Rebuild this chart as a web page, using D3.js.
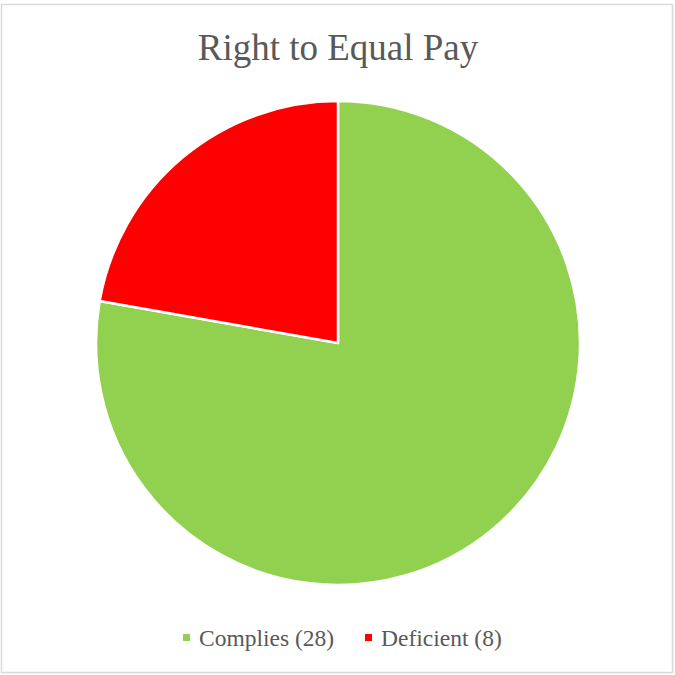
<!DOCTYPE html>
<html>
<head>
<meta charset="utf-8">
<script src="https://cdn.jsdelivr.net/npm/d3@7"></script>
<style>
  body { margin: 0; background: #fff; }
</style>
</head>
<body>
<div id="chart"></div>
<script>
// Chart data
const categories = ["Complies (28)", "Deficient (8)"];
const values = [28, 8];
const colors = ["#92d050", "#ff0000"];

const width = 675, height = 675;

const svg = d3.select("#chart")
  .append("svg")
    .attr("width", width)
    .attr("height", height);

// Outer frame
svg.append("rect")
  .attr("x", 1.5)
  .attr("y", 4.5)
  .attr("width", 671)
  .attr("height", 668)
  .attr("fill", "#fff")
  .attr("stroke", "#d9d9d9")
  .attr("stroke-width", 1.5);

// Title
svg.append("text")
  .attr("x", 338)
  .attr("y", 60)
  .attr("text-anchor", "middle")
  .style("font-family", "'Liberation Serif', 'Times New Roman', serif")
  .style("font-size", "37px")
  .style("fill", "#595959")
  .text("Right to Equal Pay");

// Pie
const radius = 242;
const pie = d3.pie().sort(null).value(d => d)(values);
const arc = d3.arc().innerRadius(0).outerRadius(radius);

const g = svg.append("g")
  .attr("transform", "translate(338,343)");

g.selectAll("path")
  .data(pie)
  .enter()
  .append("path")
    .attr("d", arc)
    .attr("fill", (d, i) => colors[i])
    .attr("stroke", "#fff")
    .attr("stroke-width", 2.5)
    .attr("stroke-linejoin", "round");

// Legend
const legendX = [183, 365];
const legend = svg.append("g");

legend.selectAll("rect")
  .data(categories)
  .enter()
  .append("rect")
    .attr("x", (d, i) => legendX[i])
    .attr("y", 634)
    .attr("width", 7)
    .attr("height", 7)
    .attr("fill", (d, i) => colors[i]);

legend.selectAll("text")
  .data(categories)
  .enter()
  .append("text")
    .attr("x", (d, i) => legendX[i] + 16)
    .attr("y", 646)
    .style("font-family", "'Liberation Serif', 'Times New Roman', serif")
    .style("font-size", "23.5px")
    .style("fill", "#595959")
    .text(d => d);
</script>
</body>
</html>
